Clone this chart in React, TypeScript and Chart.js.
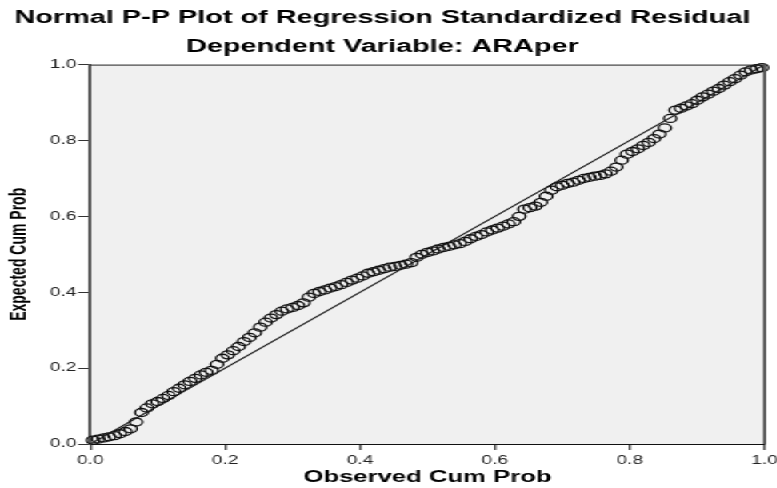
import React, { useEffect, useRef } from "react";
import { Chart, registerables } from "chart.js";

Chart.register(...registerables);

const titleText = "Normal P-P Plot of Regression Standardized Residual";
const subtitleText = "Dependent Variable: ARAper";
const xTitle = "Observed Cum Prob";
const yTitle = "Expected Cum Prob";

const observedCumProb = [
  0.004, 0.012, 0.020, 0.028, 0.036, 0.044, 0.052, 0.060, 0.068, 0.076,
  0.084, 0.092, 0.100, 0.108, 0.116, 0.124, 0.132, 0.140, 0.148, 0.156,
  0.164, 0.172, 0.180, 0.188, 0.196, 0.204, 0.212, 0.220, 0.228, 0.236,
  0.244, 0.252, 0.260, 0.268, 0.276, 0.284, 0.292, 0.300, 0.308, 0.316,
  0.324, 0.332, 0.340, 0.348, 0.356, 0.364, 0.372, 0.380, 0.388, 0.396,
  0.404, 0.412, 0.420, 0.428, 0.436, 0.444, 0.452, 0.460, 0.468, 0.476,
  0.484, 0.492, 0.500, 0.508, 0.516, 0.524, 0.532, 0.540, 0.548, 0.556,
  0.564, 0.572, 0.580, 0.588, 0.596, 0.604, 0.612, 0.620, 0.628, 0.636,
  0.644, 0.652, 0.660, 0.668, 0.676, 0.684, 0.692, 0.700, 0.708, 0.716,
  0.724, 0.732, 0.740, 0.748, 0.756, 0.764, 0.772, 0.780, 0.788, 0.796,
  0.804, 0.812, 0.820, 0.828, 0.836, 0.844, 0.852, 0.860, 0.868, 0.876,
  0.884, 0.892, 0.900, 0.908, 0.916, 0.924, 0.932, 0.940, 0.948, 0.956,
  0.964, 0.972, 0.980, 0.988, 0.996,
];

const expectedCumProb = [
  0.010, 0.013, 0.016, 0.019, 0.022, 0.027, 0.033, 0.040, 0.058, 0.083,
  0.095, 0.106, 0.112, 0.120, 0.128, 0.138, 0.147, 0.156, 0.165, 0.173,
  0.182, 0.189, 0.194, 0.210, 0.226, 0.235, 0.246, 0.257, 0.270, 0.281,
  0.293, 0.308, 0.321, 0.332, 0.341, 0.350, 0.356, 0.360, 0.365, 0.372,
  0.387, 0.397, 0.402, 0.406, 0.411, 0.415, 0.420, 0.426, 0.432, 0.437,
  0.443, 0.450, 0.454, 0.458, 0.462, 0.466, 0.468, 0.471, 0.474, 0.478,
  0.492, 0.500, 0.505, 0.509, 0.514, 0.518, 0.521, 0.525, 0.528, 0.534,
  0.541, 0.547, 0.552, 0.559, 0.564, 0.569, 0.574, 0.580, 0.586, 0.600,
  0.619, 0.623, 0.627, 0.637, 0.653, 0.669, 0.678, 0.682, 0.687, 0.690,
  0.695, 0.700, 0.703, 0.706, 0.708, 0.712, 0.719, 0.730, 0.748, 0.764,
  0.771, 0.778, 0.787, 0.795, 0.805, 0.817, 0.833, 0.858, 0.880, 0.885,
  0.891, 0.897, 0.906, 0.915, 0.922, 0.930, 0.937, 0.946, 0.955, 0.963,
  0.972, 0.981, 0.986, 0.989, 0.992,
];

const diagonalLine = [
  { x: 0, y: 0 },
  { x: 1, y: 1 },
];

const STRETCH = 1.6;
const LOGICAL_W = 777 / STRETCH;
const H = 488;

const frame = {
  id: "ppFrame",
  beforeDraw(chart: any) {
    const { ctx, chartArea } = chart;
    ctx.save();
    ctx.fillStyle = "#f0f0f0";
    ctx.fillRect(chartArea.left, chartArea.top, chartArea.right - chartArea.left, chartArea.bottom - chartArea.top);
    ctx.restore();
  },
  afterDraw(chart: any) {
    const { ctx, chartArea } = chart;
    ctx.save();
    ctx.strokeStyle = "#222";
    ctx.lineWidth = 1;
    ctx.beginPath();
    ctx.moveTo(chartArea.left, chartArea.top + 0.5);
    ctx.lineTo(chartArea.right, chartArea.top + 0.5);
    ctx.stroke();
    ctx.strokeStyle = "#555";
    ctx.lineWidth = 2;
    ctx.beginPath();
    ctx.moveTo(chartArea.right, chartArea.top);
    ctx.lineTo(chartArea.right, chartArea.bottom);
    ctx.stroke();
    ctx.restore();
  },
};

export default function App() {
  const ref = useRef<HTMLCanvasElement | null>(null);

  useEffect(() => {
    if (!ref.current) return;
    const points = observedCumProb.map((x, i) => ({ x, y: expectedCumProb[i] }));
    const chart = new Chart(ref.current, {
      type: "scatter",
      data: {
        datasets: [
          {
            type: "line",
            data: diagonalLine,
            borderColor: "#1a1a1a",
            borderWidth: 1.2,
            pointRadius: 0,
            fill: false,
          } as any,
          {
            data: points,
            pointStyle: "circle",
            pointRadius: 4,
            pointBorderWidth: 1.3,
            pointBorderColor: "#111",
            pointBackgroundColor: "rgba(0,0,0,0)",
            clip: false,
          } as any,
        ],
      },
      options: {
        animation: false,
        responsive: true,
        maintainAspectRatio: false,
        devicePixelRatio: 1,
        layout: { padding: { left: 0, right: 8.7, top: 0, bottom: 0 } },
        plugins: {
          legend: { display: false },
          tooltip: { enabled: false },
          title: {
            display: true,
            text: titleText,
            color: "#000",
            font: { family: "'Liberation Sans', Arial, sans-serif", size: 18, weight: "bold", lineHeight: 1.2 },
            padding: { top: 7, bottom: 7.6 },
          },
          subtitle: {
            display: true,
            text: subtitleText,
            color: "#000",
            font: { family: "'Liberation Sans', Arial, sans-serif", size: 18, weight: "bold", lineHeight: 1.2 },
            padding: { top: 0, bottom: 6.8 },
          },
        },
        scales: {
          x: {
            type: "linear",
            min: 0,
            max: 1,
            ticks: {
              stepSize: 0.2,
              padding: 3,
              color: "#222",
              font: { family: "'Liberation Sans', Arial, sans-serif", size: 12 },
              callback: (v: any) => Number(v).toFixed(1),
            },
            grid: { drawOnChartArea: false, drawTicks: true, tickLength: 6, color: "#555", lineWidth: 1.5 },
            border: { display: true, color: "#111", width: 1 },
            title: {
              display: true,
              text: xTitle,
              color: "#000",
              font: { family: "'Liberation Sans', Arial, sans-serif", size: 16, weight: "bold", lineHeight: 1.2 },
              padding: { top: 0, bottom: 1 },
            },
            afterFit: (s: any) => {
              s.height = 44;
              s.paddingLeft = 0;
              s.paddingRight = 0;
            },
          },
          y: {
            type: "linear",
            min: 0,
            max: 1,
            ticks: {
              stepSize: 0.2,
              padding: 1,
              color: "#222",
              font: { family: "'Liberation Sans', Arial, sans-serif", size: 12 },
              callback: (v: any) => Number(v).toFixed(1),
            },
            grid: { drawOnChartArea: false, drawTicks: true, tickLength: 7.5, color: "#333", lineWidth: 1 },
            border: { display: true, color: "#555", width: 2 },
            title: {
              display: true,
              text: yTitle,
              color: "#000",
              font: { family: "'Liberation Sans', Arial, sans-serif", size: 14, weight: "bold", lineHeight: 1.2 },
              padding: { top: 4.1, bottom: 0 },
            },
            afterFit: (s: any) => {
              s.width = 56.25;
              s.paddingTop = 0;
              s.paddingBottom = 0;
            },
          },
        },
      },
      plugins: [frame],
    });
    return () => chart.destroy();
  }, []);

  return (
    <div
      style={{
        position: "fixed",
        left: 0,
        top: 0,
        width: LOGICAL_W + "px",
        height: H + "px",
        transform: `scaleX(${STRETCH})`,
        transformOrigin: "0 0",
        background: "#fff",
      }}
    >
      <canvas ref={ref} />
    </div>
  );
}
